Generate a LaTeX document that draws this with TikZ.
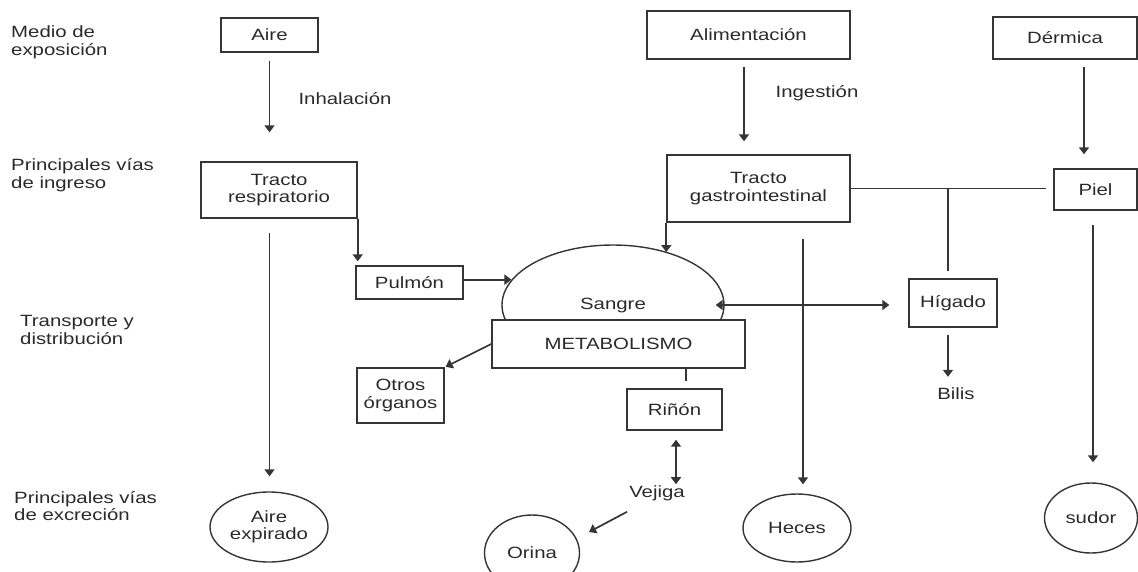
\documentclass[tikz,border=0pt]{standalone}
\usepackage{fontspec}
\setmainfont{Liberation Sans}[FakeStretch=1.25]
\usetikzlibrary{arrows.meta,calc,shapes.geometric}
\definecolor{ink}{HTML}{2A2A2A}
\definecolor{wire}{HTML}{353535}
\begin{document}
\begin{tikzpicture}[x=1pt,y=-1pt,
  every node/.style={text=ink, font=\fontsize{16.3}{17.5}\selectfont, align=center, inner sep=0pt},
  box/.style={draw=wire, line width=1.4pt, rectangle},
  oval/.style={draw=wire, line width=1.4pt, ellipse},
  link/.style={draw=wire, line width=1.7pt},
  arr/.style={link, -{Triangle[length=7pt,width=10pt]}},
  darr/.style={link, {Triangle[length=7pt,width=10pt]}-{Triangle[length=7pt,width=10pt]}}]
\useasboundingbox (0,0) rectangle (1138,571);

% row labels
\node[anchor=west, align=left] (l1) at (11,42.5) {Medio de\\exposición};
\node[anchor=west, align=left] (l2) at (11,175) {Principales vías\\de ingreso};
\node[anchor=west, align=left] (l3) at (20,330) {Transporte y\\distribución};
\node[anchor=west, align=left] (l4) at (14,506) {Principales vías\\de excreción};

% boxes
\node[box, minimum width=97pt, minimum height=34pt] (aire) at (269.5,35) {Aire};
\node[box, minimum width=203pt, minimum height=48pt] (alim) at (748.5,35) {Alimentación};
\node[box, minimum width=144pt, minimum height=42pt] (derm) at (1065,38) {Dérmica};
\node[box, minimum width=156pt, minimum height=56pt] (tr) at (279,190) {Tracto\\respiratorio};
\node[box, minimum width=183pt, minimum height=67pt] (tgi) at (758.5,188.5) {Tracto\\gastrointestinal};
\node[box, minimum width=83pt, minimum height=41pt] (piel) at (1095.5,189.5) {Piel};
\node[box, minimum width=107pt, minimum height=33pt] (pulmon) at (409.5,282.5) {Pulmón};
\node[box, minimum width=253pt, minimum height=48pt] (met) at (618.5,344) {METABOLISMO};
\node[box, minimum width=87pt, minimum height=55pt] (otros) at (400.5,395.5) {Otros\\órganos};
\node[box, minimum width=95pt, minimum height=41pt] (rinon) at (674.5,409.5) {Riñón};
\node[box, minimum width=88pt, minimum height=48pt] (higado) at (953,303) {Hígado};

% blood half-ellipse
\begin{scope}
  \clip (0,0) rectangle (1138,320);
  \node[oval, minimum width=222pt, minimum height=120pt] (sangre) at (613,305) {Sangre};
\end{scope}

% free labels
\node (inh) at (345,99) {Inhalación};
\node (ing) at (817,93) {Ingestión};
\node (bilis) at (956,394) {Bilis};
\node (vejiga) at (657,493) {Vejiga};

% excretion ovals
\node[oval, minimum width=118pt, minimum height=70pt] (aexp) at (269,527) {Aire\\expirado};
\node[oval, minimum width=95pt, minimum height=76pt] (orina) at (532,553) {Orina};
\node[oval, minimum width=108pt, minimum height=68pt] (heces) at (797,528) {Heces};
\node[oval, minimum width=93pt, minimum height=70pt] (sudor) at (1091,518) {sudor};

% helper coordinates (x positions of vertical links)
\coordinate (jx) at (948,189);
\coordinate (hx) at (803,0);
\coordinate (sx) at (1093,0);
\coordinate (kx) at (686,0);
\coordinate (dx) at (1084,0);

% connectors
\draw[arr, shorten <=8pt, shorten >=29pt] (aire.south) -- (aire.south |- tr.north);
\draw[arr, shorten <=7pt, shorten >=13pt] (alim.south -| 744,0) -- (tgi.north -| 744,0);
\draw[arr, shorten <=7pt, shorten >=14pt] (derm.south -| dx) -- (piel.north -| dx);
\draw[arr, shorten <=14pt, shorten >=15pt] (tr.south -| aire.south) -- (aexp.north -| aire.south);
\draw[arr, shorten >=4pt] (tr.south east) -- (tr.south east |- pulmon.north);
\draw[arr] (pulmon.east |- sangre.166) -- (sangre.166);
\draw[arr] (tgi.south west) -- (tgi.south west |- sangre.44);
\draw[link, shorten >=7pt] (tgi.east) -- (tgi.east -| piel.west);
\draw[link, shorten >=7pt] (jx) -- (jx |- higado.north);
\draw[arr, shorten <=7pt, shorten >=11pt] (jx |- higado.south) -- (jx |- bilis.north);
\draw[darr, shorten <=-9pt, shorten >=19pt] (sangre.east) -- (sangre.east -| higado.west);
\draw[arr, shorten <=16pt, shorten >=9pt] (tgi.south -| hx) -- (heces.north -| hx);
\draw[arr, shorten <=14pt, shorten >=20pt] (piel.south -| sx) -- (sudor.north -| sx);
\draw[arr, shorten >=1pt] (met.west) -- (otros.north east);
\draw[link, shorten >=7pt] (met.south -| kx) -- (rinon.north -| kx);
\draw[darr, shorten <=9pt, shorten >=1pt] (rinon.south -| 676,0) -- (vejiga.north -| 676,0);
\draw[arr] ($(vejiga.south)+(-30,11)$) -- ($(orina.center)+(57,-21)$);
\end{tikzpicture}
\end{document}
